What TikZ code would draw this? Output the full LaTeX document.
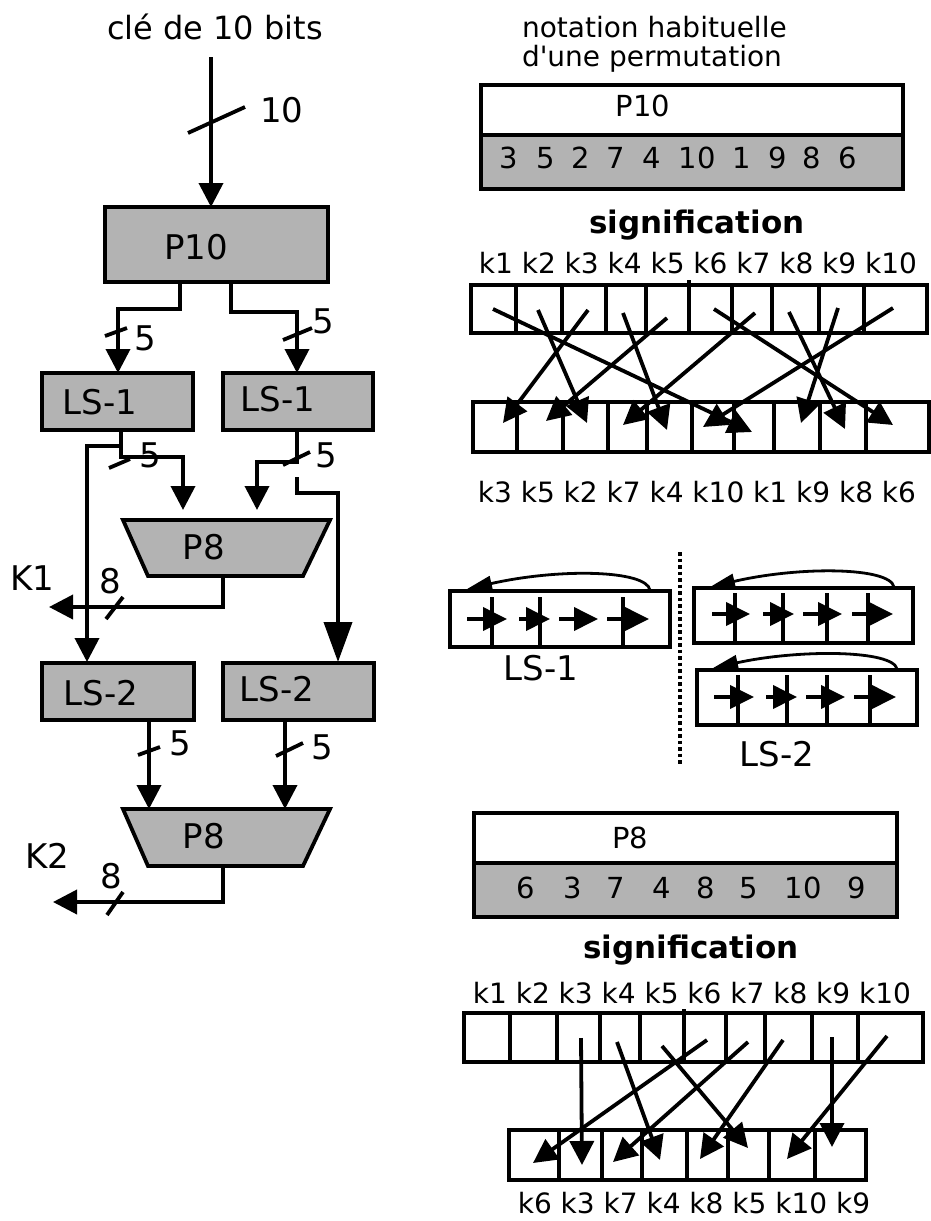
\documentclass[tikz,border=0pt]{standalone}
\usepackage{fontspec}
\setmainfont{DejaVu Sans}
\newfontfamily\nolig{DejaVu Sans}[Ligatures=TeXOff]
\usetikzlibrary{arrows.meta}
\definecolor{boxgray}{RGB}{179,179,179}
\begin{document}
\begin{tikzpicture}[x=1pt,y=-1pt,line width=3.8pt,
  every node/.style={inner sep=0pt,outer sep=0pt},
  arr/.style={-{Triangle[width=24pt,length=24pt]}},
  bigarr/.style={-{Triangle[width=28pt,length=40pt]}},
  sarr/.style={-{Triangle[width=23pt,length=24pt]}},
  carr/.style={line width=2.8pt,-{Triangle[width=15pt,length=25pt]}},
  gbox/.style={draw,fill=boxgray,line width=3.8pt},
  wbox/.style={draw,fill=white,line width=3.8pt},
  big/.style={font=\fontsize{34}{40}\selectfont},
  ttl/.style={font=\fontsize{32}{38}\selectfont},
  mid/.style={font=\fontsize{29}{34}\selectfont},
  kk/.style={font=\fontsize{28}{32}\selectfont},
  note/.style={font=\fontsize{28}{32}\selectfont},
  sig/.style={font=\fontsize{31}{36}\selectfont\bfseries},
  dots/.style={line width=3.5pt,dash pattern=on 3.5pt off 3pt}
]
\useasboundingbox (0,0) rectangle (930,1221);

% ================= LEFT =================
\node[ttl] (title) at (215,27) {clé de 10 bits};
\coordinate (kin) at (211,57);
\node[gbox,minimum width=223pt,minimum height=75pt] (p10) at (216.5,244.5) {};
\node[big] (p10t) at (196,247) {P10};
\draw[arr] (kin) -- (kin |- p10.north);
\draw (188,133) -- (245,107);
\node[big] (n10) at (282,110) {10};

\node[gbox,minimum width=151pt,minimum height=57pt] (ls1a) at (117.5,401.5) {};
\node[big] (ls1at) at (100,402) {LS-1};
\node[gbox,minimum width=150pt,minimum height=57pt] (ls1b) at (298,401.5) {};
\node[big] (ls1bt) at (278,399) {LS-1};

\draw[arr] (180,282) -- (180,309) -- (118,309) -- (118,373);
\draw[arr] (231,282) -- (231,312) -- (297,312) -- (297,373);
\draw (105,336) -- (127,328);
\draw (283,340) -- (312,328);
\node[big] (f1) at (145,338) {5};
\node[big] (f2) at (323,321) {5};

% P8 (first)
\filldraw[fill=boxgray] (123,520) -- (330,520) -- (303,576) -- (148,576) -- cycle;
\node[big] (p8a) at (204,547) {P8};

\node[gbox,minimum width=152pt,minimum height=57pt] (ls2a) at (118,691.5) {};
\node[big] (ls2at) at (101,693) {LS-2};
\node[gbox,minimum width=151pt,minimum height=57pt] (ls2b) at (298.5,691.5) {};
\node[big] (ls2bt) at (277,689) {LS-2};

\draw[arr] (121,430) -- (121,457) -- (183,457) -- (183,510);
\draw[arr] (121,446) -- (87,446) -- (87,662);
\draw (109,468) -- (130,459);
\node[big] (f3) at (150,455) {5};

\draw[arr] (297,430) -- (297,462) -- (257,462) -- (257,510);
\draw (283,465) -- (310,452);
\node[big] (f4) at (326,455) {5};
\draw[bigarr] (297,477) -- (297,493) -- (338,493) -- (338,662);

\draw[arr] (223,576) -- (223,607) -- (49,607);
\draw (106,619) -- (123,597);
\node[big] (e1) at (110,581) {8};
\node[big] (k1) at (32,578) {K1};

\draw[arr] (149,720) -- (149,809);
\draw[arr] (285,720) -- (285,809);
\draw (138,755) -- (160,747);
\draw (276,756) -- (303,743);
\node[big] (f5) at (180,743) {5};
\node[big] (f6) at (322,747) {5};

% P8 (second)
\filldraw[fill=boxgray] (123,809) -- (330,809) -- (303,866) -- (148,866) -- cycle;
\node[big] (p8b) at (204,836) {P8};
\draw[arr] (223,866) -- (223,902) -- (53,902);
\draw (107,915) -- (123,892);
\node[big] (e2) at (111,876) {8};
\node[big] (k2) at (47,856) {K2};

% ================= RIGHT =================
\node[note,anchor=base west] (nt1) at (522,37) {notation habituelle};
\node[note,anchor=base west] (nt2) at (522,66) {\nolig d'une permutation};
\node[wbox,minimum width=422pt,minimum height=50pt] (tp10) at (692,110) {};
\node[gbox,minimum width=422pt,minimum height=54pt] (bp10) at (692,162) {};
\node[mid] (tp10t) at (643,106) {P10};
\foreach \x/\t in {509/3,546/5,581/2,616/7,652/4,697/10,742/1,778/9,812/8,848/6}
  \node[mid] (a\x) at (\x,158) {\t};

\node[sig] (sig1) at (697,225) {signification};
\node[kk] (kr1) at (698,263) {k1 k2 k3 k4 k5 k6 k7 k8 k9 k10};
\foreach \a/\b in {471/516,516/562,562/606,606/646,646/689,689/732,732/772,772/819,819/864,864/927}
  \draw (\a,285) rectangle (\b,333);
\draw (689,280) -- (689,285);
\foreach \a/\b in {473/517,517/563,563/608,608/647,647/692,692/734,734/774,774/820,820/866,866/929}
  \draw (\a,402) rectangle (\b,452);
\foreach \sx/\sy/\ex/\ey in {493/309/752/432, 538/310/587/423, 588/310/503/423, 623/313/667/430, 667/318/546/421, 714/309/893/425, 755/313/623/425, 789/312/845/429, 838/308/801/423, 893/308/703/427}
  \draw[arr] (\sx,\sy) -- (\ex,\ey);
\node[kk] (kr2) at (697,492) {k3 k5 k2 k7 k4 k10 k1 k9 k8 k6};

% LS-1 illustration
\draw (450,591) rectangle (670,647);
\foreach \x in {492,540,623} \draw (\x,597) -- (\x,647);
\foreach \a/\b in {467/507,519/550,559/598,607/649} \draw[sarr] (\a,619) -- (\b,619);
\draw[carr] (650,590) .. controls (646,570) and (560,568) .. (467,589);
\node[big] (ls1l) at (541,668) {LS-1};

\draw[dots] (680,552) -- (680,765);

% LS-2 illustration
\draw (694,588) rectangle (913,643);
\foreach \x in {735,783,827,868} \draw (\x,593) -- (\x,643);
\foreach \a/\b in {712/750,763/794,803/842,852/893} \draw[sarr] (\a,614) -- (\b,614);
\draw[carr] (894,587) .. controls (890,567) and (800,566) .. (710,587);
\draw (697,670) rectangle (917,725);
\foreach \x in {738,787,827,870} \draw (\x,675) -- (\x,725);
\foreach \a/\b in {714/754,766/797,806/845,854/896} \draw[sarr] (\a,697) -- (\b,697);
\draw[carr] (897,669) .. controls (893,650) and (800,649) .. (713,668);
\node[big] (ls2l) at (777,754) {LS-2};

% P8 notation
\node[wbox,minimum width=423pt,minimum height=50pt] (tp8) at (685.5,838) {};
\node[gbox,minimum width=423pt,minimum height=54pt] (bp8) at (685.5,890) {};
\node[mid] (tp8t) at (630,838) {P8};
\foreach \x/\t in {526/6,573/3,616/7,662/4,706/8,749/5,803/10,857/9}
  \node[mid] (b\x) at (\x,888) {\t};

\node[sig] (sig2) at (691,950) {signification};
\node[kk] (kr3) at (692,993) {k1 k2 k3 k4 k5 k6 k7 k8 k9 k10};
\foreach \a/\b in {464/510,510/557,557/600,600/640,640/684,684/726,726/765,765/812,812/858,858/923}
  \draw (\a,1013) rectangle (\b,1062);
\draw (684,1009) -- (684,1013);
\foreach \a/\b in {509/559,559/602,602/642,642/687,687/728,728/769,769/815,815/866}
  \draw (\a,1130) rectangle (\b,1180);
\foreach \sx/\sy/\ex/\ey in {581/1038/582/1165, 617/1042/660/1160, 662/1046/748/1148, 707/1040/533/1163, 748/1042/613/1162, 783/1040/700/1159, 832/1037/832/1147, 887/1036/787/1159}
  \draw[arr] (\sx,\sy) -- (\ex,\ey);
\node[kk] (kr4) at (694,1203) {k6 k3 k7 k4 k8 k5 k10 k9};
\end{tikzpicture}
\end{document}
